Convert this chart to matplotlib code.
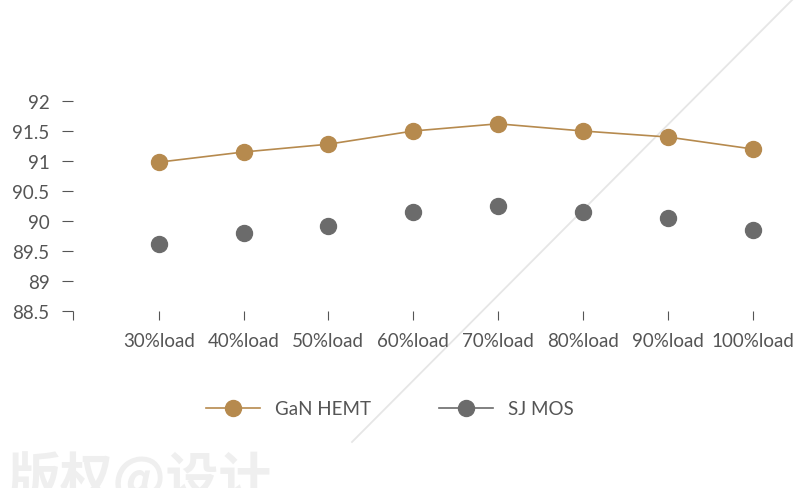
import matplotlib
matplotlib.use('Agg')
import matplotlib.pyplot as plt
from matplotlib.lines import Line2D

# data
categories = ['30%load', '40%load', '50%load', '60%load', '70%load', '80%load', '90%load', '100%load']
gan_hemt = [90.98, 91.15, 91.28, 91.5, 91.62, 91.5, 91.4, 91.2]
sj_mos = [89.62, 89.8, 89.92, 90.15, 90.25, 90.15, 90.05, 89.85]
y_ticks = [88.5, 89, 89.5, 90, 90.5, 91, 91.5, 92]

gold = '#B68A4E'
grey = '#6B6B6B'
text_c = '#555555'

plt.rcParams['font.family'] = ['Lato', 'DejaVu Sans']

fig = plt.figure(figsize=(8, 4.89), dpi=100)
ax = fig.add_axes([73 / 800, 1 - 312 / 489, (795 - 73) / 800, 210 / 489])
ax.set_facecolor('none')

x = list(range(len(categories)))
ax.plot(x, gan_hemt, color=gold, lw=1.2, marker='o', ms=11.5, mec=gold, mfc=gold, clip_on=False, zorder=3)
ax.plot(x, sj_mos, color=grey, ls='none', marker='o', ms=11.5, mec=grey, mfc=grey, clip_on=False, zorder=3)

ax.set_xlim(-1.01, 7.5)
ax.set_ylim(88.5, 92)
ax.set_xticks(x)
ax.set_xticklabels(categories)
ax.set_xticks([-1.01], minor=True)
ax.set_yticks(y_ticks)
ax.set_yticklabels([f'{v:g}' for v in y_ticks])

for s in ax.spines.values():
    s.set_visible(False)
ax.tick_params(axis='y', length=8, width=0.8, color=text_c, pad=9, labelsize=13.5, labelcolor=text_c)
ax.tick_params(axis='x', which='both', length=6.5, width=0.8, color=text_c, pad=8.5, labelsize=13.5, labelcolor=text_c)

handles = [Line2D([], [], color=gold, lw=1.2, marker='o', ms=11.5, mfc=gold, mec=gold),
           Line2D([], [], color=grey, lw=1.2, marker='o', ms=11.5, mfc=grey, mec=grey)]
fig.legend(handles, ['GaN HEMT', 'SJ MOS'], loc='center', bbox_to_anchor=(390 / 800, 1 - 410 / 489),
           ncol=2, frameon=False, fontsize=13.5, labelcolor=text_c, handlelength=2.9,
           handletextpad=0.8, columnspacing=3.6)

# light diagonal stroke across the picture
fig.add_artist(Line2D([352 / 800, 1.0], [1 - 443 / 489, 1 + 7 / 489], color='#E6E6E6', lw=1.3, zorder=-1))

# watermark (cut off at the bottom edge, as in the reference)
fig.text(8 / 800, 1 - 452 / 489, '版权@设计', fontsize=38, fontweight='bold', color='#EFEFEF',
         family=['Noto Sans CJK SC', 'DejaVu Sans'], ha='left', va='top', zorder=-2)

fig.savefig('out.png', dpi=100, facecolor='white')
